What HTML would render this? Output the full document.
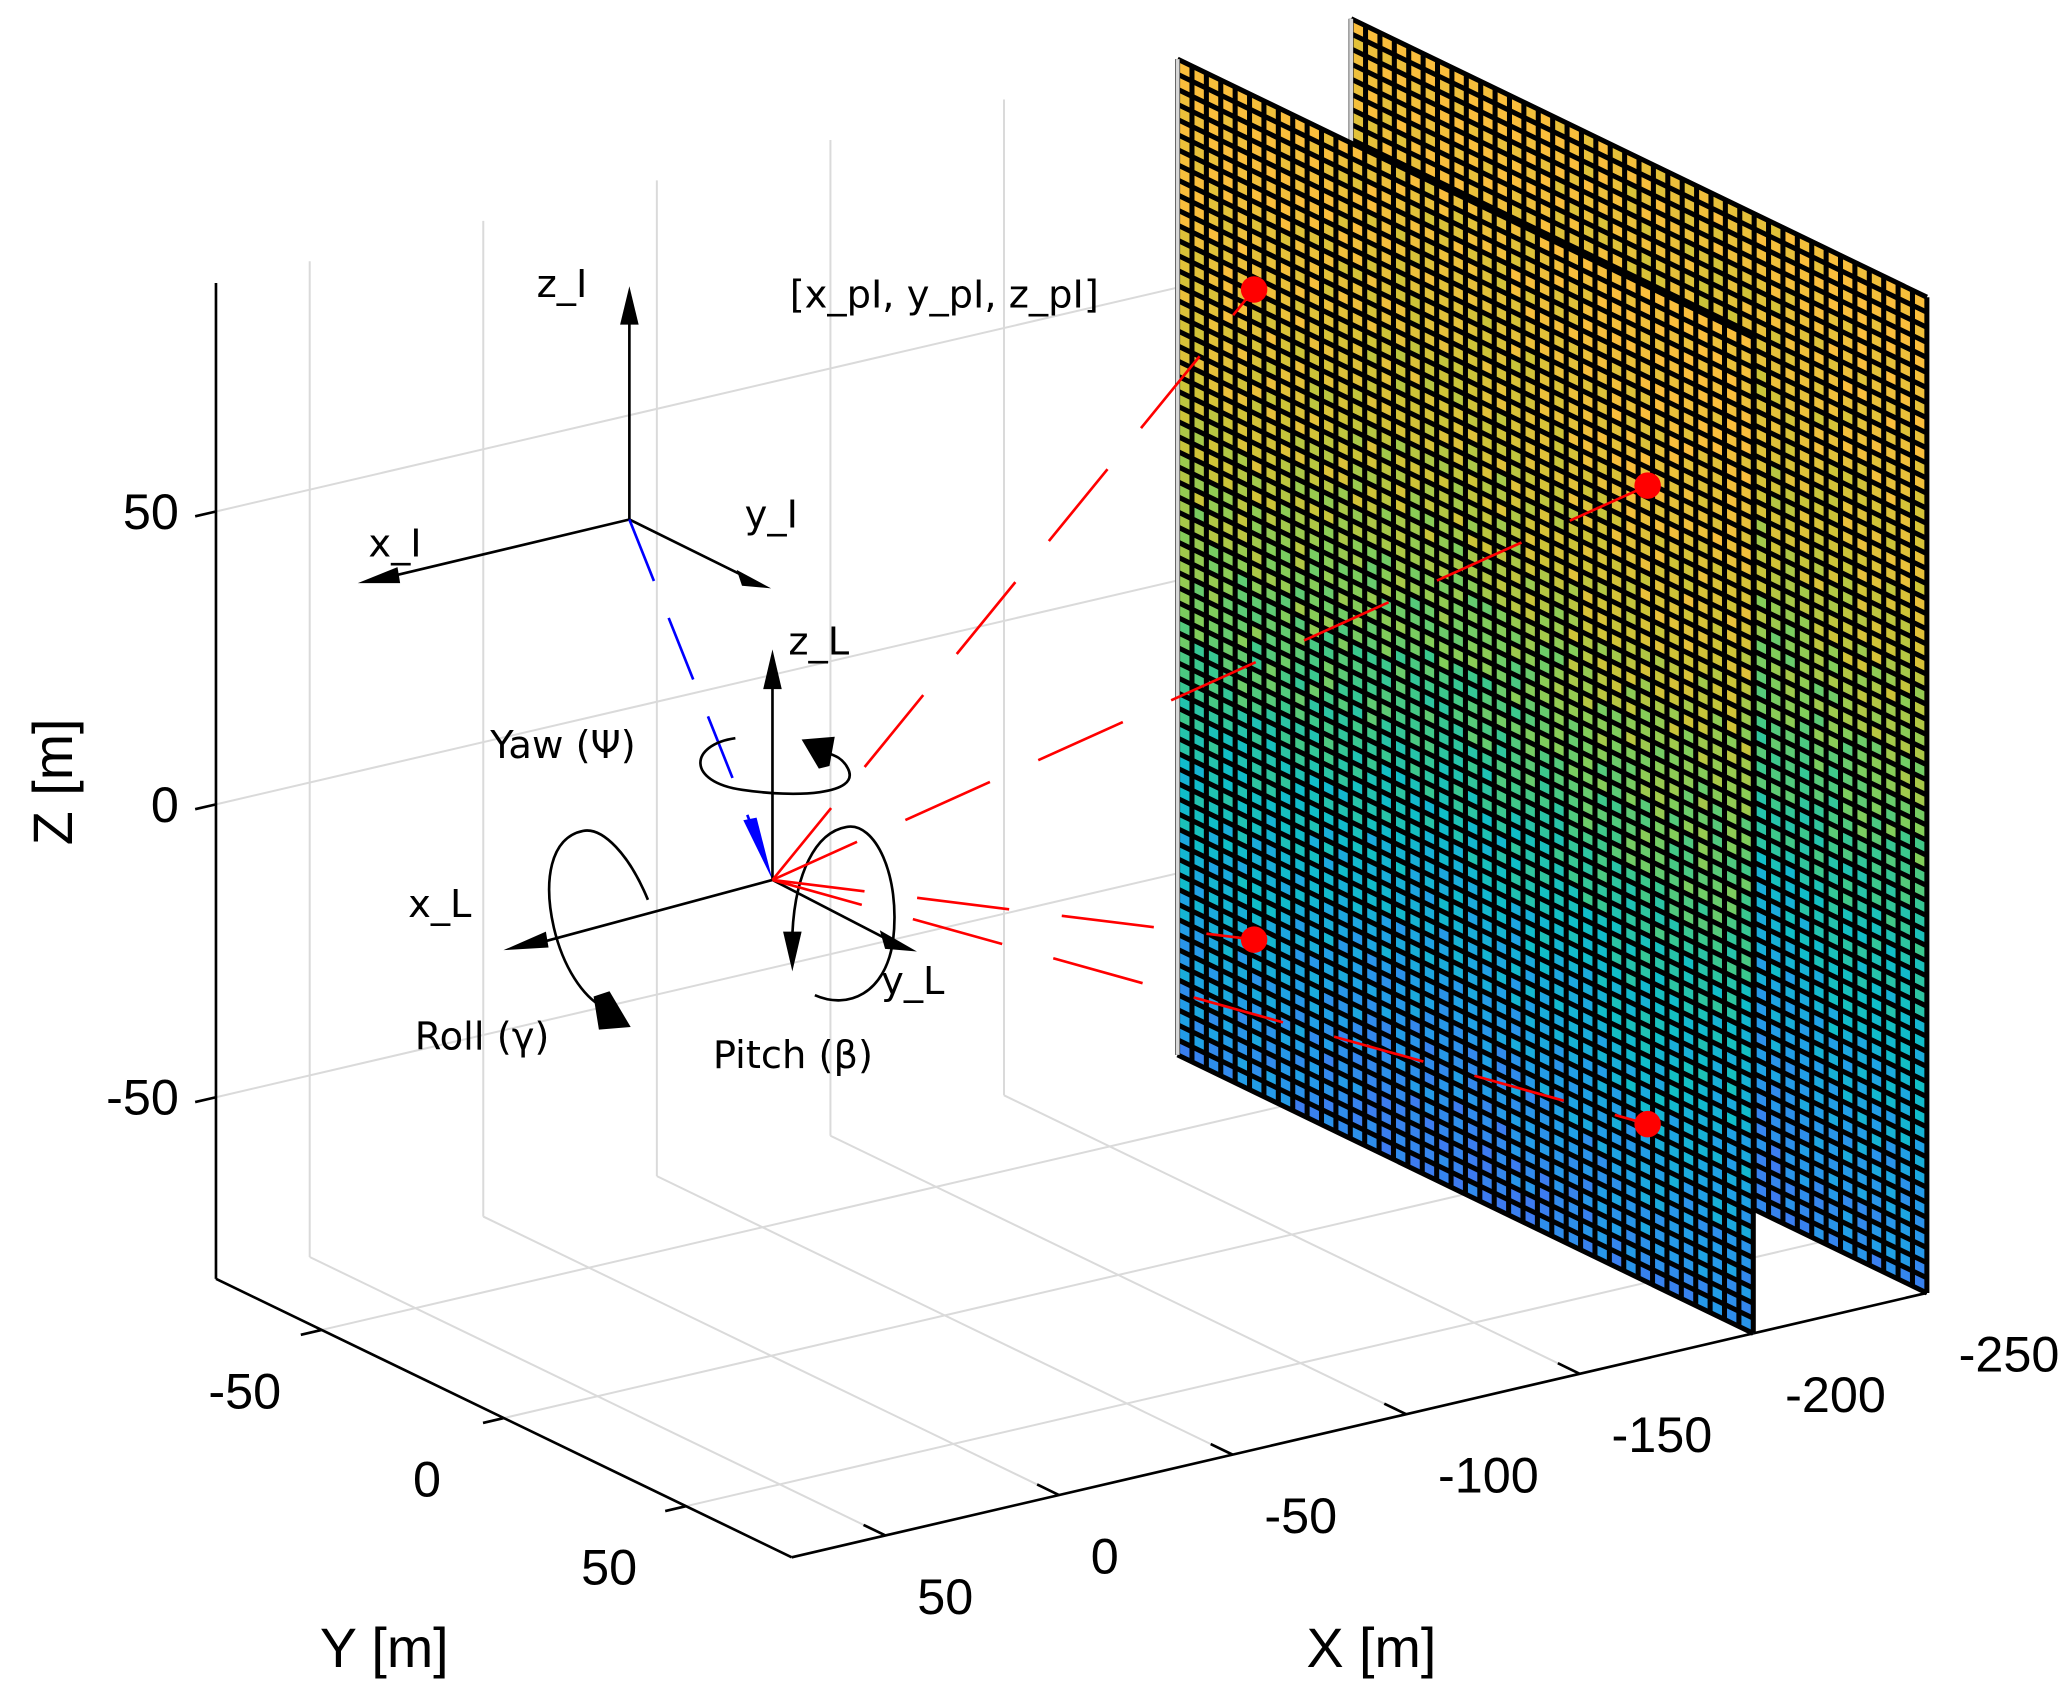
<!DOCTYPE html>
<html><head><meta charset="utf-8"><style>
html,body{margin:0;padding:0;background:#fff;}
svg{display:block;}
text{font-family:"Liberation Sans",sans-serif;}
.ann{font-family:"DejaVu Sans","Liberation Sans",sans-serif;font-size:29px;fill:#000;}
</style></head><body>
<svg id="chart" width="2067" height="1683" viewBox="0 0 1560 1270" preserveAspectRatio="none" xmlns="http://www.w3.org/2000/svg">
<g id="grid"></g>
<g id="axes"></g>
<g id="planes"></g>
<g id="frames">
  <g stroke="#000" stroke-width="2" fill="#000">
    <line x1="475" y1="392" x2="475" y2="240"/><polygon points="475,216 468,245 482,245" stroke="none"/>
    <line x1="475" y1="392" x2="295" y2="435"/><polygon points="270,440 300,428 302,440" stroke="none"/>
    <line x1="475" y1="392" x2="562" y2="435"/><polygon points="582,444 556,430 560,442" stroke="none"/>
  </g>
  <text class="ann" x="405" y="224">z_I</text>
  <text class="ann" x="278" y="420">x_I</text>
  <text class="ann" x="562" y="398">y_I</text>
  <line x1="475" y1="392" x2="566" y2="620" stroke="#0000ff" stroke-width="2" stroke-dasharray="50,30"/>
  <polygon points="561,619 571,617 583,664" fill="#0000ff"/>
  <g stroke="#000" stroke-width="2" fill="#000">
    <line x1="583" y1="664" x2="583" y2="515"/><polygon points="583,490 576,520 590,520" stroke="none"/>
    <line x1="583" y1="664" x2="405" y2="712"/><polygon points="380,717 412,703 414,715" stroke="none"/>
    <line x1="583" y1="664" x2="672" y2="710"/><polygon points="692,718 664,702 668,716" stroke="none"/>
  </g>
  <text class="ann" x="595" y="494">z_L</text>
  <text class="ann" x="308" y="692">x_L</text>
  <text class="ann" x="665" y="750">y_L</text>
  <path d="M555,557 C520,562 518,590 560,596 C600,602 650,600 640,580 C636,572 630,570 624,568" fill="none" stroke="#000" stroke-width="2"/>
  <polygon points="605,558 630,556 626,578 618,580" fill="#000"/>
  <text class="ann" x="370" y="572">Yaw (Ψ)</text>
  <path d="M489,679 C475,645 455,624 440,627 C415,632 410,665 418,700 C425,730 440,752 455,760" fill="none" stroke="#000" stroke-width="2"/>
  <polygon points="448,752 460,748 476,775 452,777" fill="#000"/>
  <text class="ann" x="313" y="792">Roll (γ)</text>
  <path d="M615,751 C640,762 668,750 674,710 C680,660 660,620 639,624 C615,628 600,660 598,705" fill="none" stroke="#000" stroke-width="2"/>
  <polygon points="591,703 605,703 598,733" fill="#000"/>
  <text class="ann" x="538" y="806">Pitch (β)</text>
</g>
<g id="rays"></g>
<text class="ann" x="596" y="232">[x_pI, y_pI, z_pI]</text>
<text x="40" y="590" font-size="42" text-anchor="middle" transform="rotate(-90 40 590)" dominant-baseline="central">Z [m]</text>
<text x="290" y="1258" font-size="42" text-anchor="middle">Y [m]</text>
<text x="1035" y="1258" font-size="42" text-anchor="middle">X [m]</text>
</svg>
<script>
const xTicks = [50, 0, -50, -100, -150, -200, -250];
const yTicks = [-50, 0, 50];
const zTicks = [-50, 0, 50];
const xLim = [-250, 77];
const yLim = [-79, 79];
const zLim = [-81, 89];
const planeX = [-250, -200];
const sensorOrigin = [583, 664];
const hitX = [-200, -200, -200, -200];
const hitY = [-58, 50, -58, 50];
const hitZ = [56, 55, -55, -54];
const NS = "http://www.w3.org/2000/svg";

function proj(X, Y, Z) {
  return [163 + (X - 77) * -2.62 + (Y + 79) * 2.75,
          965 + (X - 77) * 0.61 + (Y + 79) * 1.33 + (Z + 81) * -4.42];
}
function mk(tag, attrs, parent) {
  const e = document.createElementNS(NS, tag);
  for (const k in attrs) e.setAttribute(k, attrs[k]);
  parent.appendChild(e);
  return e;
}
function line(a, b, parent, stroke, w) {
  return mk('line', {x1:a[0], y1:a[1], x2:b[0], y2:b[1], stroke:stroke, 'stroke-width':w}, parent);
}
const grid = document.getElementById('grid');
const axes = document.getElementById('axes');
const GC = '#dadada';
for (const x of xTicks) {
  const l = line(proj(x, yLim[0], zLim[0]), proj(x, yLim[0], zLim[1]), grid, GC, 1.5);
  
  
  const f = line(proj(x, yLim[0], zLim[0]), proj(x, yLim[1], zLim[0]), grid, GC, 1.5);
  
  
}
for (const z of zTicks) {
  const l = line(proj(xLim[1], yLim[0], z), proj(xLim[0], yLim[0], z), grid, GC, 1.5);
  
  
  const r = line(proj(xLim[0], yLim[0], z), proj(xLim[0], yLim[1], z), grid, GC, 1.5);
  
  
}
for (const y of yTicks) {
  const l = line(proj(xLim[1], y, zLim[0]), proj(xLim[0], y, zLim[0]), grid, GC, 1.5);
  
  
  const r = line(proj(xLim[0], y, zLim[0]), proj(xLim[0], y, zLim[1]), grid, GC, 1.5);
  
  
}
let a1 = line(proj(xLim[1], yLim[0], zLim[0]), proj(xLim[1], yLim[0], zLim[1]), axes, '#000', 2);


let a2 = line(proj(xLim[1], yLim[0], zLim[0]), proj(xLim[1], yLim[1], zLim[0]), axes, '#000', 2);


let a3 = line(proj(xLim[1], yLim[1], zLim[0]), proj(xLim[0], yLim[1], zLim[0]), axes, '#000', 2);


for (const z of zTicks) {
  const p = proj(xLim[1], yLim[0], z);
  const q = proj(xLim[1] + 6, yLim[0], z);
  const t = line(p, q, axes, '#000', 2);
  
  
  const tx = mk('text', {x:135, y:p[1], 'font-size':38, 'text-anchor':'end', 'dominant-baseline':'central'}, axes);
  tx.textContent = String(z);
  
  
}
for (const y of yTicks) {
  const p = proj(xLim[1], y, zLim[0]);
  const q = proj(xLim[1] + 6, y, zLim[0]);
  const t = line(p, q, axes, '#000', 2);
  
  
  const tx = mk('text', {x:p[0] - 58, y:p[1] + 46, 'font-size':38, 'text-anchor':'middle', 'dominant-baseline':'central'}, axes);
  tx.textContent = String(y);
  
  
}
for (const x of xTicks) {
  const p = proj(x, yLim[1], zLim[0]);
  const q = proj(x, yLim[1] - 6, zLim[0]);
  const t = line(p, q, axes, '#000', 2);
  
  
  const tx = mk('text', {x:p[0] + 24, y:p[1] + 46, 'font-size':38, 'text-anchor':'start', 'dominant-baseline':'central'}, axes);
  tx.textContent = String(x);
  
  
}
const stops = [[0,[61,123,240]],[0.18,[32,160,230]],[0.34,[16,190,200]],[0.5,[60,200,140]],[0.64,[130,205,90]],[0.8,[205,195,55]],[1,[250,190,60]]];
function cmap(v) {
  v = Math.max(0, Math.min(1, v));
  for (let i = 1; i < stops.length; i++) {
    if (v <= stops[i][0]) {
      const a = stops[i-1], b = stops[i], t = (v - a[0]) / (b[0] - a[0]);
      const c = a[1].map((ch, k) => Math.round(ch + (b[1][k] - ch) * t));
      return 'rgb(' + c.join(',') + ')';
    }
  }
  return 'rgb(250,190,60)';
}
function shape(t) {
  const bp = [[0,0.05],[0.3,0.32],[0.42,0.5],[0.68,0.8],[1,0.98]];
  for (let i = 1; i < bp.length; i++) {
    if (t <= bp[i][0]) {
      const a = bp[i-1], b = bp[i];
      return a[1] + (b[1] - a[1]) * (t - a[0]) / (b[0] - a[0]);
    }
  }
  return 0.98;
}
function hash(i, j, k) {
  let h = (i * 374761393 + j * 668265263 + k * 2147483647) | 0;
  h = (h ^ (h >>> 13)) * 1274126177;
  return ((h ^ (h >>> 16)) >>> 0) / 4294967295;
}
const planes = document.getElementById('planes');
const NC = 40, NR = 66;
planeX.forEach((px, pi) => {
  const g = mk('g', {}, planes);
  
  
  const dy = (yLim[1] - yLim[0]) / NC, dz = (zLim[1] - zLim[0]) / NR;
  for (let r = 0; r < NR; r++) {
    for (let c = 0; c < NC; c++) {
      const y0 = yLim[0] + c * dy, z0 = zLim[0] + r * dz;
      const pts = [proj(px, y0, z0), proj(px, y0 + dy, z0), proj(px, y0 + dy, z0 + dz), proj(px, y0, z0 + dz)];
      const v = shape((r + 0.5) / NR) + (hash(r, c, pi) - 0.5) * 0.16 + 0.05 * Math.sin(c / 5 + pi);
      const cell = mk('polygon', {points: pts.map(p => p[0].toFixed(1) + ',' + p[1].toFixed(1)).join(' '), fill: cmap(v), stroke: cmap(v), 'stroke-width': 0.4}, g);
      
      
    }
  }
  for (let c = 0; c <= NC; c++) {
    const y = yLim[0] + c * dy;
    const l = line(proj(px, y, zLim[0]), proj(px, y, zLim[1]), g, '#000', 3.8);
    
    
  }
  for (let r = 0; r <= NR; r++) {
    const z = zLim[0] + r * dz;
    const l = line(proj(px, yLim[0], z), proj(px, yLim[1], z), g, '#000', 3.8);
    
    
  }
  const e = line(proj(px, yLim[0], zLim[0]), proj(px, yLim[0], zLim[1]), g, '#d8d8d8', 3);
  
  
});
const rays = document.getElementById('rays');
for (let i = 0; i < hitX.length; i++) {
  const p = proj(hitX[i], hitY[i], hitZ[i]);
  const l = line(sensorOrigin, p, rays, '#ff0000', 2);
  l.setAttribute('stroke-dasharray', '70,40');
  
  
  const d = mk('circle', {cx:p[0], cy:p[1], r:10, fill:'#ff0000'}, rays);
  
  
}
</script>
</body></html>
